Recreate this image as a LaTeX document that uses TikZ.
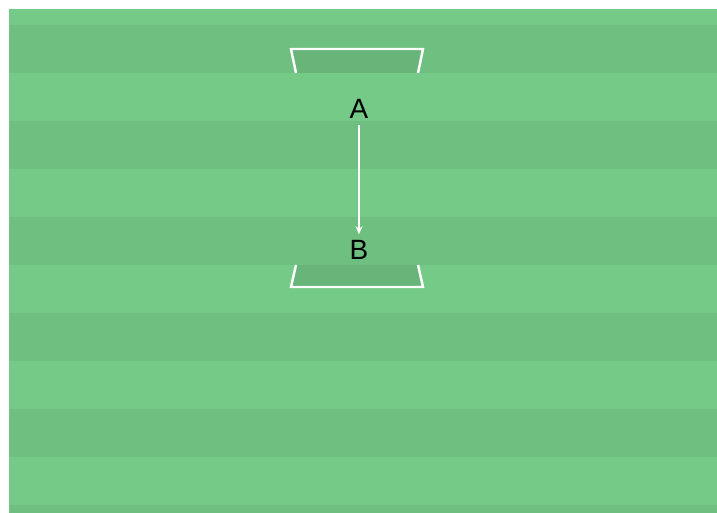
\documentclass[tikz,border=0pt]{standalone}
\usepackage{fontspec}
\setmainfont{Liberation Sans}
\usetikzlibrary{arrows.meta}
\definecolor{lightg}{RGB}{117,202,136}
\definecolor{darkg}{RGB}{110,191,128}
\definecolor{goalg}{RGB}{104,180,121}
\tikzset{
  goalline/.style={draw=white, line width=2.5pt, line join=miter},
  lbl/.style={font=\fontsize{28}{32}\selectfont, text=black, inner sep=0pt},
  arr/.style={draw=white, line width=1.5pt, -{Stealth[length=8pt,width=7pt]}, shorten <=6bp, shorten >=6bp}
}
\begin{document}
\begin{tikzpicture}[x=1bp,y=-1bp]
\useasboundingbox (0,0) rectangle (717,513);
\fill[white] (0,0) rectangle (717,513);
\fill[lightg] (9,9) rectangle (717,513);
\foreach \y/\h in {25/48,121/48,217/48,313/48,409/48,505/8} {
  \fill[darkg] (9,\y) rectangle ++(708,\h);
}
% top goal
\fill[goalg] (291,50) -- (423,50) -- (418,73) -- (296,73) -- cycle;
\draw[goalline] (296,73) -- (291,49) -- (423,49) -- (418,73);
% bottom goal
\fill[goalg] (296,265) -- (418,265) -- (423,287) -- (291,287) -- cycle;
\draw[goalline] (296,265) -- (291,287) -- (423,287) -- (418,265);
\node[lbl] (A) at (359,109) {A};
\node[lbl] (B) at (359,250) {B};
\draw[arr] (A) -- (B);
\end{tikzpicture}
\end{document}
